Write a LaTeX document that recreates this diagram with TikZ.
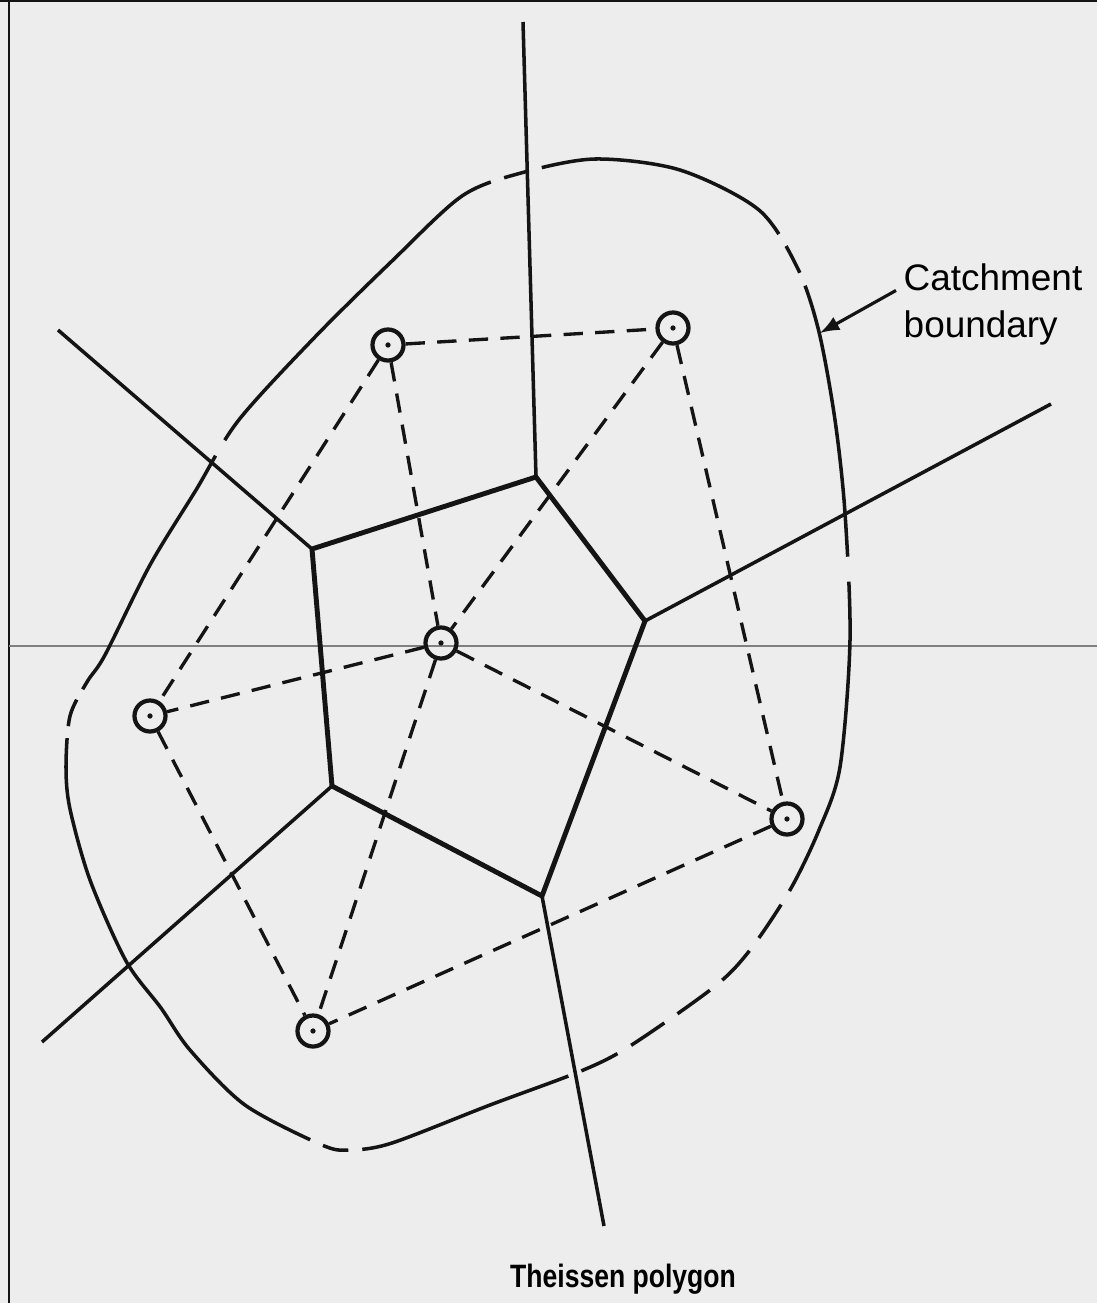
\documentclass[tikz,border=0pt]{standalone}
\usepackage{fontspec}
\setmainfont{Liberation Sans}
\usepackage{tikz}
\usepackage{xcolor}
\definecolor{paper}{RGB}{237,237,237}
\definecolor{ink}{RGB}{20,20,20}

\begin{document}
\begin{tikzpicture}[x=0.01cm,y=-0.01cm,
  gauge/.style={circle,draw=ink,line width=1.2pt,minimum size=0.31cm,inner sep=0pt},
  link/.style={draw=ink,line width=0.95pt,dash pattern=on 5.5pt off 3.5pt},
  poly/.style={draw=ink,line width=1.4pt},
  ray/.style={draw=ink,line width=1pt},
  bnd/.style={draw=ink,line width=1pt,dash pattern=on 22.8mm off 1.8mm on 37.3mm off 1.4mm on 2.5mm off 1.4mm on 26mm off 1.4mm on 3mm off 1.4mm on 27.5mm off 2.5mm on 32mm off 1.6mm on 4mm off 1.6mm on 4mm off 1.6mm on 4mm off 1.6mm on 4mm off 1.6mm on 4mm off 1.4mm on 21.9mm off 1.4mm on 2.6mm off 1.4mm on 49.5mm off 1.2mm on 2.8mm off 1.2mm on 10mm}]
\fill[paper] (0,0) rectangle (1097,1303);
\useasboundingbox (0,0) rectangle (1097,1303);
\draw[ink,line width=0.6pt] (9,0) -- (9,1303);
\draw[ink,line width=0.6pt] (0,1) -- (1097,1);
\draw[gray,line width=0.4pt] (9,646) -- (1097,646);

\draw[bnd] plot[smooth cycle] coordinates {(87,682) (105,655) (150,565) (196,490) (238,421) (315,337) (392,261) (462,196) (521,173) (595,159) (680,170) (759,210) (798,269) (819,332) (835,420) (845,513) (850,640) (840,767) (819,830) (790,890) (750,950) (714,987) (630,1046) (581,1071) (490,1105) (392,1143) (350,1150) (322,1145) (245,1105) (190,1050) (161,1008) (126,961) (90,880) (70,809) (66,767) (70,716)};

\coordinate (v1) at (312,549);
\coordinate (v2) at (536,477);
\coordinate (v3) at (645,621);
\coordinate (v4) at (542,896);
\coordinate (v5) at (332,786);
\coordinate (r1) at (58,330);
\coordinate (r2) at (523,22);
\coordinate (r3) at (1051,404);
\coordinate (r4) at (604,1226);
\coordinate (r5) at (42,1042);
\draw[poly] (v1) -- (v2) -- (v3) -- (v4) -- (v5) -- cycle;
\draw[ray] (v1) -- (r1);
\draw[ray] (v2) -- (r2);
\draw[ray] (v3) -- (r3);
\draw[ray] (v4) -- (r4);
\draw[ray] (v5) -- (r5);

\node[gauge] (g1) at (388,345) {};
\node[gauge] (g2) at (673,328) {};
\node[gauge] (g3) at (441,643) {};
\node[gauge] (g4) at (150,716) {};
\node[gauge] (g5) at (787,819) {};
\node[gauge] (g6) at (313,1031) {};
\foreach \g in {1,...,6} \fill[ink] (g\g) circle (0.75pt);
\draw[link] (g1) -- (g2);
\draw[link] (g1) -- (g3);
\draw[link] (g1) -- (g4);
\draw[link] (g2) -- (g3);
\draw[link] (g2) -- (g5);
\draw[link] (g3) -- (g4);
\draw[link] (g3) -- (g5);
\draw[link] (g3) -- (g6);
\draw[link] (g4) -- (g6);
\draw[link] (g5) -- (g6);

\node[align=left,anchor=north west,inner sep=2pt,font=\fontsize{10.5}{13.4}\selectfont] (lbl) at (896,256) {Catchment\\boundary};
\coordinate (tip) at (820,333);
\draw[ink,line width=0.9pt,-latex] ([yshift=4pt]lbl.west) -- (tip);
\node[font=\bfseries\fontsize{9.2}{11}\selectfont] (cap) at (623,1279) {\scalebox{0.82}[1]{Theissen polygon}};
\end{tikzpicture}
\end{document}
